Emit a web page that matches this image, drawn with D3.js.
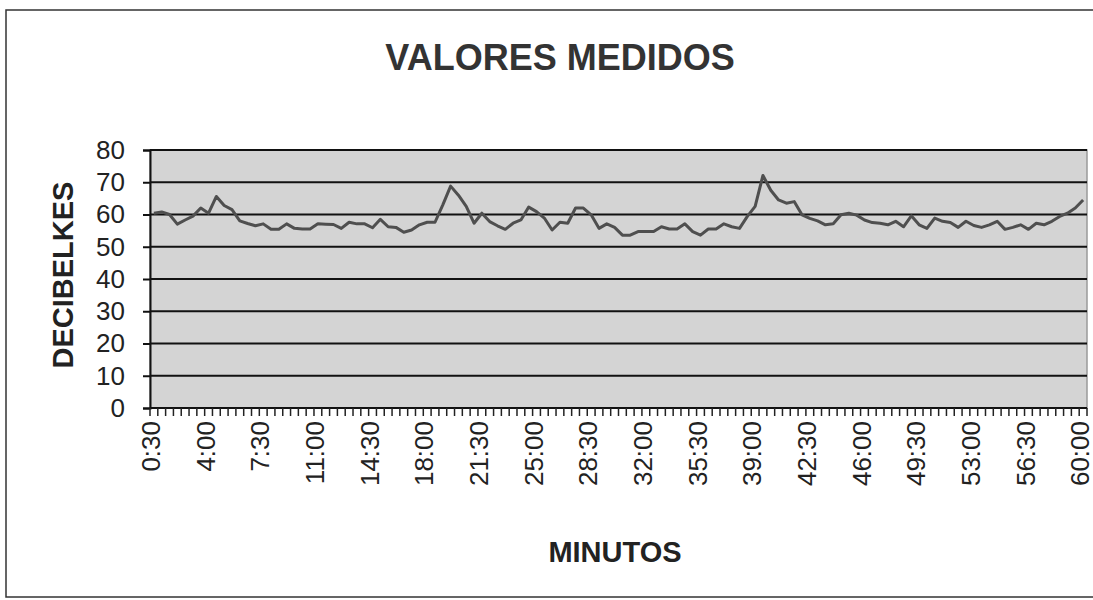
<!DOCTYPE html>
<html>
<head>
<meta charset="utf-8">
<script src="https://cdn.jsdelivr.net/npm/d3@7"></script>
<style>
  body { margin: 0; background: #fff; }
  svg { display: block; font-family: "Liberation Sans", Arial, sans-serif; }
</style>
</head>
<body>
<div id="chart"></div>
<script>
// measured sound level every 30 s, 0:30 .. 60:00
var decibels = [
    60.4, 60.8, 60.0, 57.0, 58.3, 59.5, 62.0, 60.4, 65.6, 62.8,
    61.5, 58.0, 57.2, 56.5, 57.1, 55.4, 55.4, 57.1, 55.7, 55.5,
    55.5, 57.1, 57.0, 56.9, 55.7, 57.6, 57.1, 57.1, 55.9, 58.5,
    56.2, 56.0, 54.5, 55.2, 56.8, 57.6, 57.6, 63.0, 68.8, 66.0,
    62.5, 57.3, 60.4, 57.8, 56.5, 55.4, 57.3, 58.3, 62.3, 60.9,
    58.9, 55.2, 57.6, 57.3, 62.0, 62.0, 59.9, 55.7, 57.1, 56.0,
    53.6, 53.6, 54.7, 54.7, 54.7, 56.2, 55.5, 55.5, 57.1, 54.7,
    53.6, 55.5, 55.5, 57.1, 56.2, 55.7, 59.4, 62.5, 72.1, 67.5,
    64.5, 63.5, 64.0, 59.9, 58.8, 58.0, 56.8, 57.1, 59.9, 60.4,
    59.8, 58.3, 57.5, 57.3, 56.8, 57.9, 56.2, 59.6, 56.8, 55.7,
    58.9, 57.9, 57.5, 56.0, 57.9, 56.6, 56.0, 56.8, 57.9, 55.4,
    56.0, 56.8, 55.4, 57.3, 56.8, 57.9, 59.4, 60.4, 62.0, 64.5
];

// categories: one every 30 seconds
var minutes = [];
for (var s = 30; s <= 3600; s += 30) {
    minutes.push(Math.floor(s / 60) + ":" + (s % 60 === 0 ? "00" : "30"));
}

var xTickLabels = ["0:30", "4:00", "7:30", "11:00", "14:30", "18:00", "21:30", "25:00", "28:30",
    "32:00", "35:30", "39:00", "42:30", "46:00", "49:30", "53:00", "56:30", "60:00"];
var yTicks = [0, 10, 20, 30, 40, 50, 60, 70, 80];

function init() {
    var w = 1093, h = 600;
    var left = 150, right = 1087, top = 150, bottom = 408;

    var svg = d3.select("#chart").append("svg")
        .attr("width", w)
        .attr("height", h);

    // outer frame
    svg.append("rect")
        .attr("x", 6).attr("y", 10)
        .attr("width", 1100).attr("height", 587)
        .attr("fill", "none")
        .attr("stroke", "#333")
        .attr("stroke-width", 1.5);

    var x = d3.scaleBand()
        .domain(minutes)
        .range([left, right]);

    var y = d3.scaleLinear()
        .domain([0, 80])
        .range([bottom, top]);

    // plot background
    svg.append("rect")
        .attr("x", left).attr("y", top)
        .attr("width", right - left).attr("height", bottom - top)
        .attr("fill", "#d4d4d4")
        .attr("stroke", "#9a9a9a")
        .attr("stroke-width", 1.5);

    // gridlines
    svg.append("g")
        .selectAll("line")
        .data(yTicks.filter(function (d) { return d > 0; }))
        .enter()
        .append("line")
        .attr("x1", left).attr("x2", right)
        .attr("y1", function (d) { return y(d); })
        .attr("y2", function (d) { return y(d); })
        .attr("stroke", "#111")
        .attr("stroke-width", 2);

    // y axis
    var yAxis = d3.axisLeft(y)
        .tickValues(yTicks)
        .tickSize(7)
        .tickPadding(18);
    var gy = svg.append("g")
        .attr("transform", "translate(" + left + ",0)")
        .call(yAxis);
    gy.select(".domain").attr("stroke", "#111").attr("stroke-width", 2);
    gy.selectAll(".tick line").attr("stroke", "#111").attr("stroke-width", 2);
    gy.selectAll(".tick text")
        .attr("font-size", "26px")
        .attr("fill", "#222")
        .attr("font-family", "Liberation Sans, Arial, sans-serif");

    // x axis line + ticks at category boundaries
    svg.append("line")
        .attr("x1", left).attr("x2", right)
        .attr("y1", bottom).attr("y2", bottom)
        .attr("stroke", "#111")
        .attr("stroke-width", 2);

    svg.append("g")
        .selectAll("line")
        .data(minutes)
        .enter()
        .append("line")
        .attr("x1", function (d) { return x(d); })
        .attr("x2", function (d) { return x(d); })
        .attr("y1", bottom)
        .attr("y2", bottom + 8)
        .attr("stroke", "#222")
        .attr("stroke-width", 1.5);

    svg.append("line")
        .attr("x1", right).attr("x2", right)
        .attr("y1", bottom).attr("y2", bottom + 8)
        .attr("stroke", "#222")
        .attr("stroke-width", 1.5);

    // rotated x labels
    svg.append("g")
        .selectAll("text")
        .data(xTickLabels)
        .enter()
        .append("text")
        .attr("transform", function (d) {
            return "translate(" + (x(d) + x.bandwidth() / 2 - 3) + "," + (bottom + 13) + ") rotate(-90)";
        })
        .attr("text-anchor", "end")
        .attr("dy", "0.35em")
        .attr("font-size", "26px")
        .attr("fill", "#222")
        .text(function (d) { return d; });

    // line
    var line = d3.line()
        .x(function (d, i) { return x(minutes[i]) + x.bandwidth() / 2; })
        .y(function (d) { return y(d); });

    svg.append("path")
        .datum(decibels)
        .attr("d", line)
        .attr("fill", "none")
        .attr("stroke", "#4f4f4f")
        .attr("stroke-width", 3)
        .attr("stroke-linejoin", "round");

    // title
    svg.append("text")
        .attr("x", 560).attr("y", 70)
        .attr("text-anchor", "middle")
        .attr("font-size", "36px")
        .attr("font-weight", "bold")
        .attr("fill", "#333")
        .text("VALORES MEDIDOS");

    // axis titles
    svg.append("text")
        .attr("x", 615).attr("y", 562)
        .attr("text-anchor", "middle")
        .attr("font-size", "29px")
        .attr("font-weight", "bold")
        .attr("fill", "#222")
        .text("MINUTOS");

    svg.append("text")
        .attr("transform", "translate(73,275) rotate(-90)")
        .attr("text-anchor", "middle")
        .attr("font-size", "29px")
        .attr("font-weight", "bold")
        .attr("fill", "#222")
        .text("DECIBELKES");
}

window.onload = init;
</script>
</body>
</html>
